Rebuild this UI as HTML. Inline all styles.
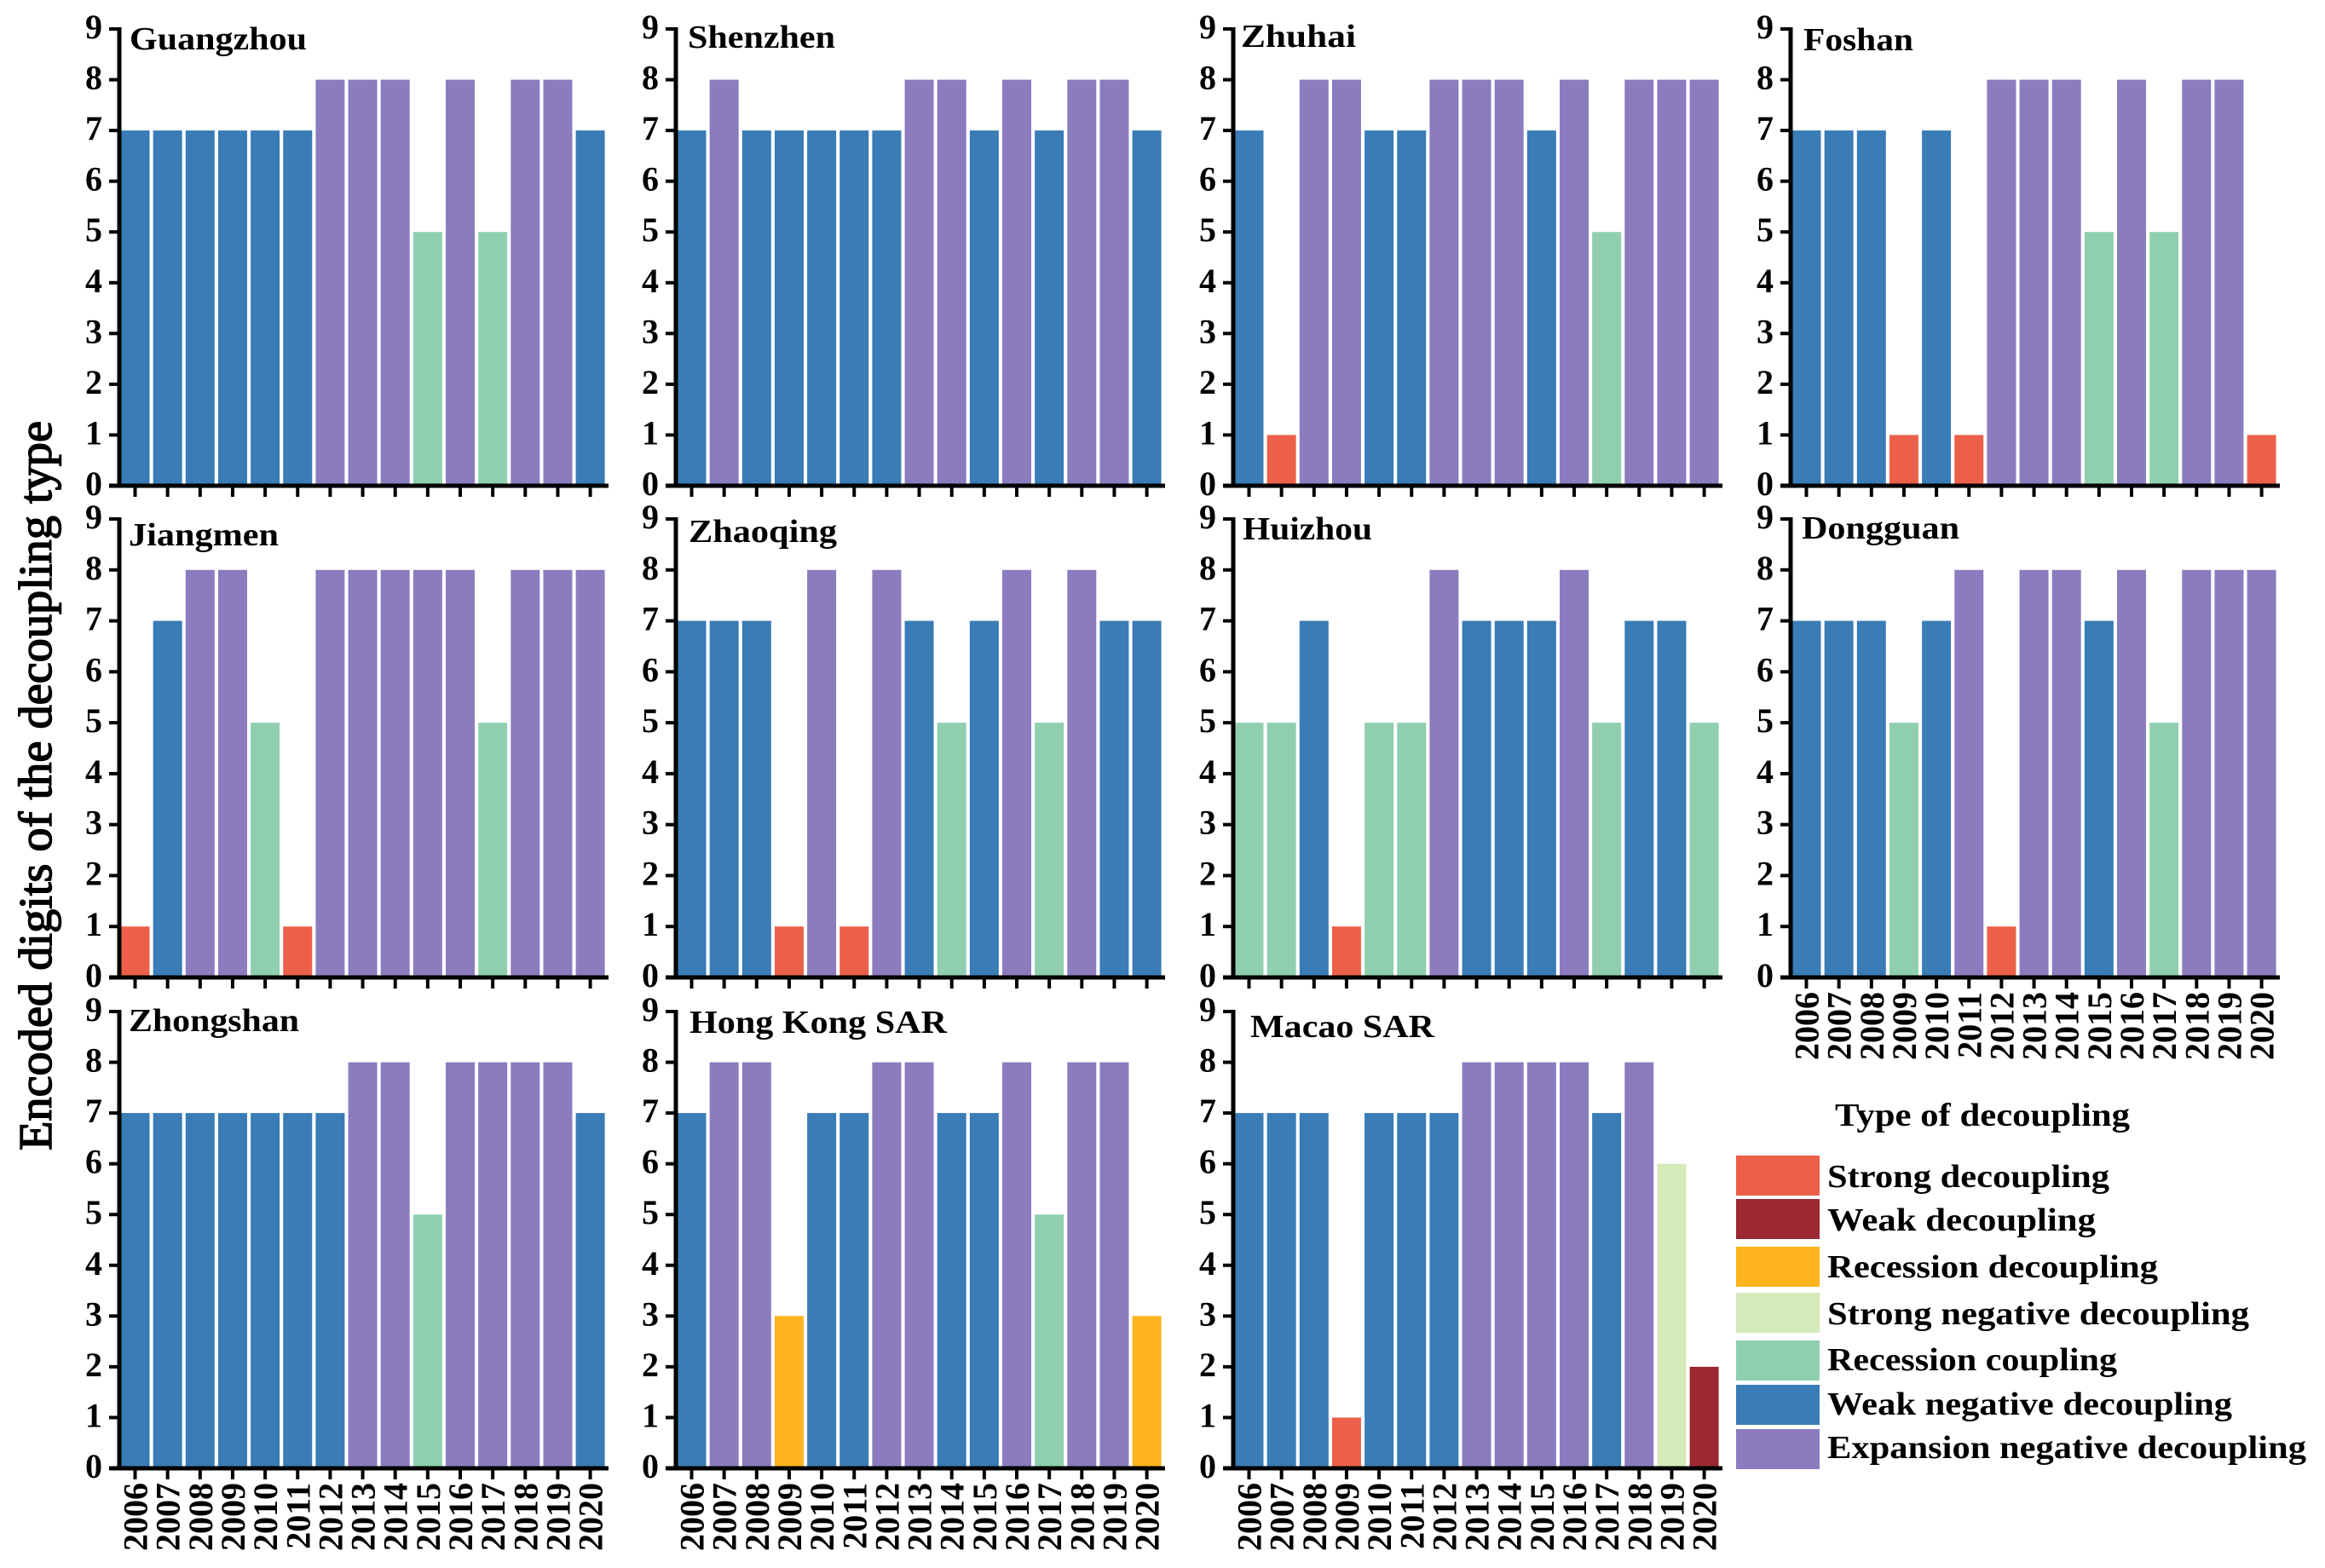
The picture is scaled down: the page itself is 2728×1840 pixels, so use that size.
<!DOCTYPE html>
<html lang="en">
<head>
<meta charset="utf-8">
<title>Encoded digits of the decoupling type</title>
<style>
html,body{margin:0;padding:0;background:#fff;}
svg{display:block;}
text{font-family:"Liberation Serif",serif;font-weight:bold;fill:#000;}
</style>
</head>
<body>
<svg id="chart" width="2728" height="1840" viewBox="0 0 2728 1840" xmlns="http://www.w3.org/2000/svg">
<rect x="0" y="0" width="2728" height="1840" fill="#ffffff"/>
<text transform="translate(60,1350) rotate(-90)" font-size="55" textLength="856" lengthAdjust="spacingAndGlyphs" style="font-weight:normal;stroke:#000;stroke-width:1.5px">Encoded digits of the decoupling type</text>
<text x="2153" y="1321" font-size="38" textLength="346" lengthAdjust="spacingAndGlyphs">Type of decoupling</text>
</svg>
<script>
const years = ['2006','2007','2008','2009','2010','2011','2012','2013','2014','2015','2016','2017','2018','2019','2020'];
const yTicks = [0,1,2,3,4,5,6,7,8,9];
const cities = ['Guangzhou','Shenzhen','Zhuhai','Foshan','Jiangmen','Zhaoqing','Huizhou','Dongguan','Zhongshan','Hong Kong SAR','Macao SAR'];
const guangzhou = [7,7,7,7,7,7,8,8,8,5,8,5,8,8,7];
const shenzhen = [7,8,7,7,7,7,7,8,8,7,8,7,8,8,7];
const zhuhai = [7,1,8,8,7,7,8,8,8,7,8,5,8,8,8];
const foshan = [7,7,7,1,7,1,8,8,8,5,8,5,8,8,1];
const jiangmen = [1,7,8,8,5,1,8,8,8,8,8,5,8,8,8];
const zhaoqing = [7,7,7,1,8,1,8,7,5,7,8,5,8,7,7];
const huizhou = [5,5,7,1,5,5,8,7,7,7,8,5,7,7,5];
const dongguan = [7,7,7,5,7,8,1,8,8,7,8,5,8,8,8];
const zhongshan = [7,7,7,7,7,7,7,8,8,5,8,8,8,8,7];
const hongKong = [7,8,8,3,7,7,8,8,7,7,8,5,8,8,3];
const macao = [7,7,7,1,7,7,7,8,8,8,8,7,8,6,2];
const cityValues = [guangzhou,shenzhen,zhuhai,foshan,jiangmen,zhaoqing,huizhou,dongguan,zhongshan,hongKong,macao];
const legendCodes = [1,2,3,6,5,7,8];
const legendLabels = ['Strong decoupling','Weak decoupling','Recession decoupling','Strong negative decoupling','Recession coupling','Weak negative decoupling','Expansion negative decoupling'];

const typeColor = {1:'#EC6049',2:'#9C2832',3:'#FEB41E',5:'#8FCFAF',6:'#D5EBB9',7:'#397CB6',8:'#8B7CBF'};
const colLeft = [140,793,1447,2101];
const rowTop = [34,609,1187];
const rowBottom = [570,1147,1723];
const titleBox = [[152,58,208],[807,56,173],[1456,55,135],[2116,59,129],[151,640,176],[808,636,174],[1458,633,152],[2114,632,185],[151,1210,200],[809,1212,302],[1467,1217,216]];
const legendTop = [1356,1407,1463,1517,1573,1625,1677];
const legendTextW = [331,315,388,495,340,475,562];
const legendBase = [1393,1444,1499,1554,1608,1660,1711];
const svg = document.getElementById('chart');
const NS = 'http://www.w3.org/2000/svg';
function make(tag, attrs, parent, txt){
  const el = document.createElementNS(NS, tag);
  for (const k in attrs) el.setAttribute(k, attrs[k]);
  if (txt !== undefined) el.textContent = txt;
  parent.appendChild(el);
  return el;
}
function slug(s){ return s.toLowerCase().replace(/\s+/g,'-'); }

cities.forEach(function(city, p){
  const col = p % 4, row = Math.floor(p / 4);
  const left = colLeft[col], top = rowTop[row], bottom = rowBottom[row];
  const yScale = function(v){ return bottom + (top - bottom) * v / 9; };
  const xScale = function(i){ return left + 18.5 + i * 38.15; };
  const g = make('g', {}, svg);
  
  

  cityValues[p].forEach(function(v, i){
    const y = yScale(v);
    const bar = make('rect', {x: xScale(i) - 17, y: y, width: 34, height: bottom - y, fill: typeColor[v]}, g);
    
    
  });

  const yAxis = make('line', {x1: left, x2: left, y1: top - 2, y2: bottom + 2.5, stroke: '#000', 'stroke-width': 5}, g);
  
  
  const xAxis = make('line', {x1: left - 12, x2: left + 574, y1: bottom, y2: bottom, stroke: '#000', 'stroke-width': 5}, g);
  
  

  yTicks.forEach(function(t){
    const y = yScale(t);
    const tick = make('line', {x1: left - 12, x2: left, y1: y, y2: y, stroke: '#000', 'stroke-width': 4}, g);
    
    
    const lab = make('text', {x: left - 20, y: y + 11, 'font-size': 40, 'text-anchor': 'end'}, g, String(t));
    
    
  });

  const showLabels = (row === 2) || p === 7;
  years.forEach(function(yr, i){
    const x = xScale(i);
    const tick = make('line', {x1: x, x2: x, y1: bottom, y2: bottom + 13, stroke: '#000', 'stroke-width': 4}, g);
    
    
    if (showLabels) {
      const lab = make('text', {transform: 'translate(' + (x + 14) + ',' + (bottom + 17) + ') rotate(-90)', 'font-size': 40, 'text-anchor': 'end'}, g, yr);
      
      
    }
  });

  const tb = titleBox[p];
  const title = make('text', {x: tb[0], y: tb[1], 'font-size': 38, textLength: tb[2], lengthAdjust: 'spacingAndGlyphs'}, g, city);
  
  
});

legendCodes.forEach(function(code, i){
  const g = make('g', {}, svg);
  
  
  const sw = make('rect', {x: 2037, y: legendTop[i], width: 98, height: 47, fill: typeColor[code]}, g);
  
  
  const tx = make('text', {x: 2144, y: legendBase[i], 'font-size': 38, textLength: legendTextW[i], lengthAdjust: 'spacingAndGlyphs'}, g, legendLabels[i]);
  
  
});
</script>
</body>
</html>
